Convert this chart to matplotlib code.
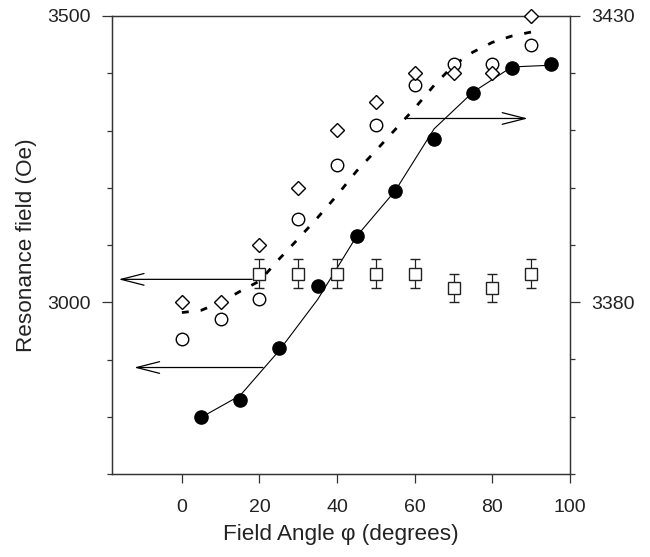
import matplotlib
matplotlib.use("Agg")
import matplotlib.pyplot as plt
from matplotlib.ticker import MultipleLocator, FixedLocator

plt.rcParams['font.family'] = ['Liberation Sans', 'DejaVu Sans']

# ---- data ----
angle_filled = [5, 15, 25, 35, 45, 55, 65, 75, 85, 95]
field_filled = [2800, 2829, 2920, 3029, 3115, 3195, 3285, 3365, 3410, 3416]
fit_solid = [2799, 2837, 2915, 3005, 3115, 3195, 3303, 3367, 3411, 3414]

angle_open = [0, 10, 20, 30, 40, 50, 60, 70, 80, 90]
field_open_circ = [3373.5, 3377, 3380.5, 3394.5, 3404, 3411, 3418, 3421.6, 3421.6, 3425]
field_diamond = [3380, 3380, 3390, 3400, 3410, 3415, 3420, 3420, 3420, 3430]

angle_dash = [0, 5, 10, 15, 20, 25, 30, 35, 40, 45, 50, 55, 60, 65, 70, 75, 80, 85, 90]
fit_dash = [3378.2, 3378.6, 3380.0, 3381.9, 3383.7, 3387.5, 3391.1, 3394.8, 3398.7,
            3402.9, 3406.5, 3410.2, 3413.9, 3417.9, 3421.4, 3423.7, 3425.4, 3426.5, 3427.2]

angle_sq = [20, 30, 40, 50, 60, 70, 80, 90]
field_sq = [3050, 3050, 3050, 3050, 3050, 3025, 3025, 3050]
err_sq = [25, 25, 25, 25, 25, 25, 25, 25]

xticks = [0, 20, 40, 60, 80, 100]
left_major = [3000, 3500]
right_major = [3380, 3430]

# ---- figure ----
fig = plt.figure(figsize=(6.5, 5.57), dpi=100)
ax = fig.add_axes([112/650, 1-474/557, (570-112)/650, (474-16)/557])
ax2 = ax.twinx()

ax.set_xlim(-18, 100)
ax.set_ylim(2700, 3500)
ax2.set_ylim(3350, 3430)

spine_c = '#333333'
for a in (ax, ax2):
    for s in a.spines.values():
        s.set_color(spine_c)
        s.set_linewidth(0.9)

# left axis (filled circles, squares)
ax.plot(angle_filled, fit_solid, '-', color='black', lw=0.8, zorder=2)
ax.plot(angle_filled, field_filled, 'o', ms=9.5, mfc='black', mec='black', zorder=3,
        clip_on=False)
ax.errorbar(angle_sq, field_sq, yerr=err_sq, fmt='s', ms=8, mfc='white', mec='#222222',
            mew=1.0, ecolor='#222222', elinewidth=0.9, capsize=3.6, capthick=0.9, zorder=3)

# right axis (open circles, diamonds, dashed fit)
ax2.plot(angle_dash, fit_dash, color='black', lw=2.0, dashes=(2.5, 4.3), zorder=2)
ax2.plot(angle_open, field_open_circ, 'o', ms=9, mfc='white', mec='black', mew=1.0, zorder=3,
         clip_on=False)
ax2.plot(angle_open, field_diamond, 'D', ms=7.5, mfc='white', mec='black', mew=1.0, zorder=4,
         clip_on=False)

# arrows
arrow_kw = dict(arrowstyle='->,head_length=1.65,head_width=0.42', lw=0.9, color='black',
                shrinkA=0, shrinkB=0, mutation_scale=10)
ax.annotate('', xy=(-16.3, 3040), xytext=(18.1, 3040), arrowprops=arrow_kw)
ax.annotate('', xy=(-12.3, 2886), xytext=(20.9, 2886), arrowprops=arrow_kw)
ax.annotate('', xy=(89.1, 3321), xytext=(58.1, 3321), arrowprops=arrow_kw)

# ticks
ax.xaxis.set_major_locator(FixedLocator(xticks))
ax.set_xticklabels([str(t) for t in xticks])
ax.yaxis.set_major_locator(FixedLocator(left_major))
ax.yaxis.set_minor_locator(MultipleLocator(100))
ax2.yaxis.set_major_locator(FixedLocator(right_major))
ax2.yaxis.set_minor_locator(MultipleLocator(10))

fs = 14
ax.tick_params(axis='x', which='major', direction='out', length=6.2, width=0.9,
               color=spine_c, labelsize=fs, pad=11.5, top=False, labelcolor='#222222')
ax.tick_params(axis='y', which='major', direction='out', length=7.2, width=0.9,
               color=spine_c, labelsize=fs, pad=8.2, right=False, labelcolor='#222222')
ax.tick_params(axis='y', which='minor', direction='out', length=3.6, width=0.9,
               color=spine_c, right=False)
ax2.tick_params(axis='y', which='major', direction='out', length=7.2, width=0.9,
                color=spine_c, labelsize=fs, pad=8.2, labelcolor='#222222')
ax2.tick_params(axis='y', which='minor', direction='out', length=3.6, width=0.9,
                color=spine_c)

ax.set_xlabel('Field Angle φ (degrees)', fontsize=16.2, color='#222222')
ax.set_ylabel('Resonance field (Oe)', fontsize=16.2, color='#222222')
ax.xaxis.set_label_coords(0.5, -0.1085)
ax.yaxis.set_label_coords(-0.163, 0.5)

fig.savefig('out.png', dpi=100)
